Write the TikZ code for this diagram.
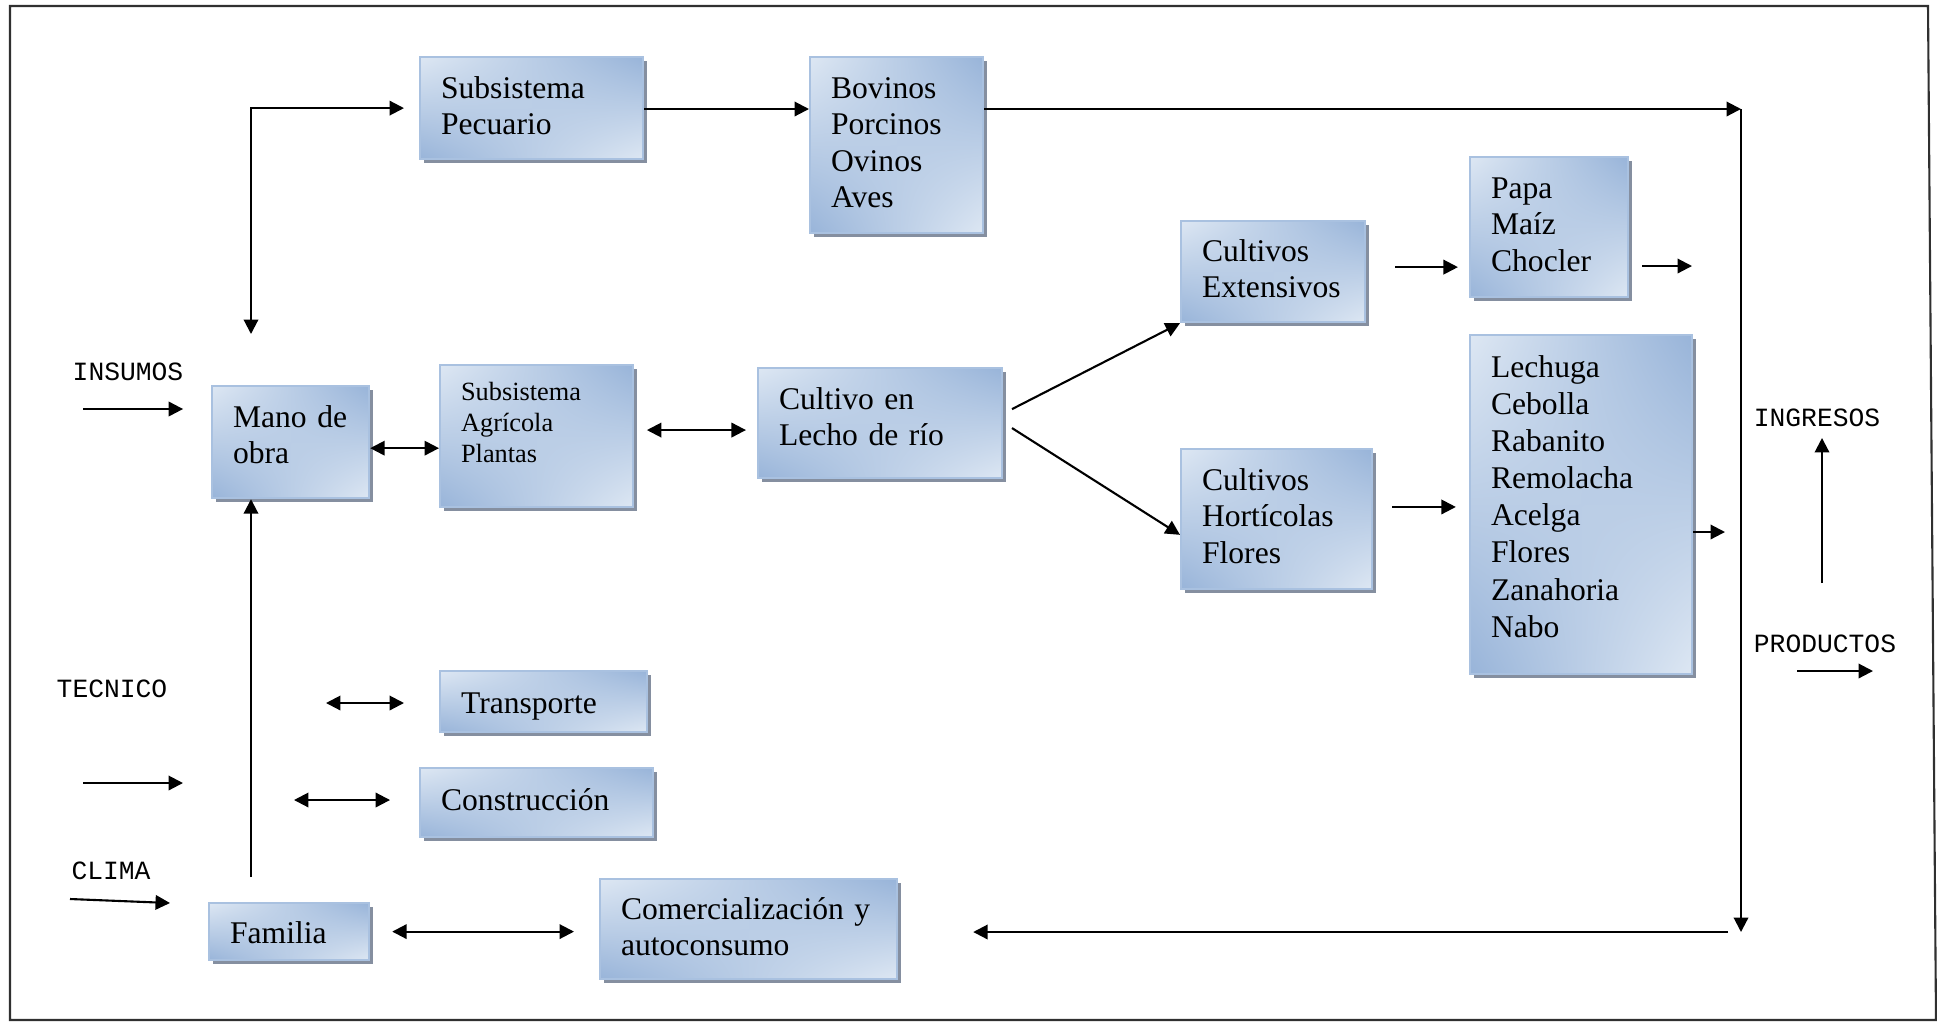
\documentclass[tikz,border=0pt]{standalone}
\usepackage{fontspec}
\setmainfont{Liberation Serif}
\setmonofont{Liberation Mono}
\usetikzlibrary{arrows.meta,shadows,shadings,calc}
\definecolor{boxlight}{HTML}{DDE7F3}
\definecolor{boxdark}{HTML}{98B4D9}
\definecolor{boxedge}{HTML}{A9C1E0}
\definecolor{shadowc}{HTML}{858FA0}
\definecolor{framec}{HTML}{303030}
\begin{document}
\begin{tikzpicture}[x=0.38pt,y=-0.38pt,
  box/.style={draw=boxedge, line width=0.8pt,
    upper left=boxlight, upper right=boxdark, lower left=boxdark, lower right=boxlight,
    drop shadow={shadow xshift=1.5pt, shadow yshift=-1.5pt, fill=shadowc, opacity=1},
    anchor=north west, align=left, inner xsep=8pt, inner ysep=0pt,
    text height=15.7pt,
    font=\fontsize{12}{13.8}\selectfont},
  smalltext/.style={font=\fontsize{10}{11.7}\selectfont},
  lab/.style={font=\ttfamily\fontsize{10}{12}\selectfont, inner sep=1pt},
  arr/.style={line width=0.8pt, -{Triangle[length=5.5pt,width=5.5pt]}},
  dbl/.style={line width=0.8pt, {Triangle[length=5.5pt,width=5.5pt]}-{Triangle[length=5.5pt,width=5.5pt]}},
  frameline/.style={draw=framec, line width=0.8pt}
]
\useasboundingbox (0,0) rectangle (1937,1027);
\draw[frameline] (10,6) -- (1928,6) -- (1936,1020) -- (10,1020) -- cycle;

% boxes
\node[box, minimum width=84.7pt, minimum height=38.8pt, text width=68.7pt, text depth=23.1pt] (pec) at (419,56) {Subsistema\\Pecuario};
\node[box, minimum width=65.7pt, minimum height=66.9pt, text width=49.7pt, text depth=51.2pt] (bov) at (809,56) {Bovinos\\Porcinos\\Ovinos\\Aves};
\node[box, minimum width=59.7pt, minimum height=42.6pt, text width=43.7pt, text depth=26.9pt] (mano) at (211,385) {Mano de\\obra};
\node[box, smalltext, minimum width=73.3pt, minimum height=54pt, text width=57.3pt, text height=13.6pt, text depth=40.4pt] (agr) at (439,364) {Subsistema\\Agrícola\\Plantas};
\node[box, minimum width=92.7pt, minimum height=41.8pt, text width=76.7pt, text depth=26.1pt] (lecho) at (757,367) {Cultivo en\\Lecho de río};
\node[box, minimum width=68.8pt, minimum height=38.4pt, text width=54pt, text height=15.3pt, text depth=23.1pt] (ext) at (1180,220) {Cultivos\\Extensivos};
\node[box, minimum width=72.6pt, minimum height=53.2pt, text width=56.6pt, text depth=37.5pt] (hort) at (1180,448) {Cultivos\\Hortícolas\\Flores};
\node[box, minimum width=60pt, minimum height=53.2pt, text width=44pt, text depth=37.5pt] (papa) at (1469,156) {Papa\\Maíz\\Chocler};
\node[box, font=\fontsize{12}{14.1}\selectfont, minimum width=84.4pt, minimum height=128.8pt, text width=68.4pt, text height=16.1pt, text depth=112.7pt] (lech) at (1469,334) {Lechuga\\Cebolla\\Rabanito\\Remolacha\\Acelga\\Flores\\Zanahoria\\Nabo};
\node[box, minimum width=78.7pt, minimum height=23.2pt, text width=62.7pt, text height=16pt, text depth=7.2pt] (trans) at (439,670) {Transporte};
\node[box, minimum width=88.5pt, minimum height=26.2pt, text width=72.5pt, text height=16.1pt, text depth=10.1pt] (cons) at (419,767) {Construcción};
\node[box, minimum width=60.8pt, minimum height=21.7pt, text width=44.8pt, text height=15.3pt, text depth=6.4pt] (fam) at (208,902) {Familia};
\node[box, minimum width=112.9pt, minimum height=38pt, text width=96.9pt, text height=15.3pt, text depth=22.7pt] (com) at (599,878) {Comercialización y\\autoconsumo};

% labels
\node[lab] (ins) at (128,372) {INSUMOS};
\node[lab] (tec) at (112,689) {TECNICO};
\node[lab] (cli) at (111,871) {CLIMA};
\node[lab] (ing) at (1817,418) {INGRESOS};
\node[lab] (pro) at (1825,644) {PRODUCTOS};

% coordinates
\coordinate (lt) at (251,109);
\coordinate (lb) at (251,334);
\coordinate (rt) at (1741,109);
\coordinate (rb) at (1741,932);
\coordinate (rl) at (1728,932);
\coordinate (pout) at (1692,266);
\coordinate (lout) at (1725,532);
\coordinate (ingb) at (1822,583);
\coordinate (p1) at (1797,671);
\coordinate (p2) at (1873,671);
\coordinate (i1) at (83,409);
\coordinate (t1) at (83,783);
\coordinate (t2) at (183,783);
\coordinate (c1) at (70,899);
\coordinate (c2) at (170,903);
\coordinate (fv) at (251,877);
\coordinate (tr1) at (326,703);
\coordinate (co1) at (294,800);

% connectors
\draw[dbl, shorten >=5.7pt] (lb) |- (pec.west);
\draw[arr] (pec.east |- lt) -- (bov.west |- lt);
\draw[arr] (bov.east |- rt) -- (rt);
\draw[arr] (rt) -- (rb);
\draw[arr, shorten >=28.5pt] (rl) -- (rl -| com.east);
\draw[dbl] ([yshift=-2.3pt]mano.east) -- ([yshift=-2.3pt]mano.east -| agr.west);
\draw[dbl, shorten <=4.9pt, shorten >=4.2pt] ([yshift=2.3pt]agr.east) -- ([yshift=2.3pt]agr.east -| lecho.west);
\draw[arr] ([xshift=3.4pt,yshift=5.3pt]lecho.east) -- (ext.south west);
\draw[arr] ([xshift=3.4pt,yshift=-1.9pt]lecho.east) -- ([yshift=-6pt]hort.west);
\draw[arr, shorten <=11pt, shorten >=4.2pt] ([yshift=1.7pt]ext.east) -- ([yshift=1.7pt]ext.east -| papa.west);
\draw[arr, shorten <=5pt] (papa.east |- pout) -- (pout);
\draw[arr, shorten <=7.2pt, shorten >=5pt] ([yshift=4.6pt]hort.east) -- ([yshift=4.6pt]hort.east -| lech.west);
\draw[arr] (lech.east |- lout) -- (lout);
\draw[arr, shorten >=3pt] (ingb) -- (ingb |- ing.south);
\draw[arr] (p1) -- (p2);
\draw[arr, shorten >=10.6pt] (i1) -- (i1 -| mano.west);
\draw[arr] (t1) -- (t2);
\draw[arr] (c1) -- (c2);
\draw[arr] (fv) -- (fv |- mano.south);
\draw[dbl, shorten >=13.3pt] (tr1) -- (tr1 -| trans.west);
\draw[dbl, shorten >=11pt] (co1) -- (co1 -| cons.west);
\draw[dbl, shorten <=8.4pt, shorten >=9.5pt] (fam.east) -- (fam.east -| com.west);
\end{tikzpicture}
\end{document}
